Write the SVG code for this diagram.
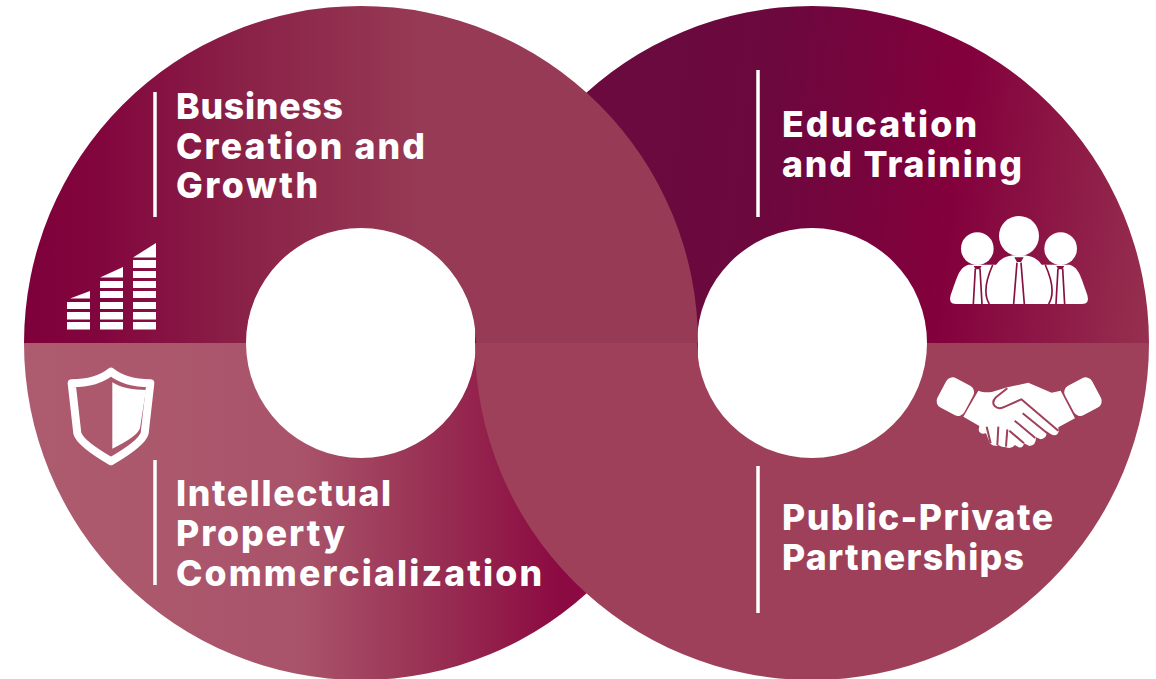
<svg xmlns="http://www.w3.org/2000/svg" width="1156" height="679" viewBox="0 0 1156 679">
<style>
text{font-family:Inter,"Liberation Sans",sans-serif;font-weight:800;font-size:35.6px;fill:#fff}
.rule{stroke:#fff;stroke-width:3.5;fill:none}
.w{fill:#fff}
.cutP{fill:none;stroke:#86103f;stroke-width:5}
.cutH{fill:none;stroke:#9f405a;stroke-width:6;stroke-linejoin:round}
</style>
<defs>
<linearGradient id="gTL" gradientUnits="userSpaceOnUse" x1="24" y1="0" x2="420" y2="0"><stop offset="0" stop-color="#7e003a"/><stop offset="0.2" stop-color="#82063e"/><stop offset="0.55" stop-color="#8a2147"/><stop offset="1" stop-color="#973a55"/></linearGradient>
<linearGradient id="gTR" gradientUnits="userSpaceOnUse" x1="620" y1="280" x2="1149" y2="343"><stop offset="0" stop-color="#6a0a3e"/><stop offset="0.25" stop-color="#6c083e"/><stop offset="0.6" stop-color="#83003c"/><stop offset="1" stop-color="#96304f"/></linearGradient>
<linearGradient id="gBL" gradientUnits="userSpaceOnUse" x1="24" y1="0" x2="560" y2="0"><stop offset="0" stop-color="#ad5b6e"/><stop offset="0.52" stop-color="#a9536a"/><stop offset="0.8" stop-color="#962a50"/><stop offset="1" stop-color="#8c0a42"/></linearGradient>
</defs>
<g id="ring-right-top"><path fill="url(#gTR)" d="M475 343A337 337 0 0 1 1149 343H927A115 115 0 0 0 697 343Z"/></g>
<g id="ring-left-top"><path fill="url(#gTL)" d="M24 343A337 337 0 0 1 698 343H476A115 115 0 0 0 246 343Z"/></g>
<g id="ring-left-bottom"><path fill="url(#gBL)" d="M24 343A337 337 0 0 0 698 343H476A115 115 0 0 1 246 343Z"/></g>
<g id="ring-right-bottom"><path fill="#9f405a" d="M475 343A337 337 0 0 0 1149 343H927A115 115 0 0 1 697 343Z"/></g>

<g id="node-business">
<line class="rule" x1="155" y1="92" x2="155" y2="217"/>
<text x="176" y="118.8" textLength="167">Business</text>
<text x="176" y="158.6" textLength="249">Creation and</text>
<text x="176" y="198.4" textLength="142">Growth</text>
<g class="w">
<path d="M70 298.5L90 291V298.5ZM100 277.5L123 267V277.5ZM133 257.5L156 243V257.5Z"/>
<path d="M67 302h23v7h-23zM67 312h23v7.5h-23zM67 322h23v7.5h-23zM100 281h23v7h-23zM100 291h23v7h-23zM100 302h23v7h-23zM100 312h23v7.5h-23zM100 322h23v7.5h-23zM133 260h23v8h-23zM133 271h23v7h-23zM133 281h23v7h-23zM133 291h23v7h-23zM133 302h23v7h-23zM133 312h23v7.5h-23zM133 322h23v7.5h-23z"/>
</g>
</g>

<g id="node-education">
<line class="rule" x1="758" y1="70" x2="758" y2="217"/>
<text x="782" y="137" textLength="195">Education</text>
<text x="782" y="177" textLength="240">and Training</text>
<g transform="translate(920 200) scale(.3333)">
<g class="w">
<circle cx="297" cy="108" r="60"/>
<circle cx="172" cy="146" r="49"/>
<circle cx="422" cy="146" r="49"/>
<path d="M145 194C125 200 116 218 108 240L92 285Q84 312 108 312H240V194Z"/>
<path d="M449 194C469 200 478 218 486 240L502 285Q510 312 486 312H354V194Z"/>
<path d="M283 166C240 168 225 195 215 225C205 250 200 280 205 295Q210 312 225 312H369Q384 312 389 295C394 280 389 250 379 225C369 195 354 168 311 166Z"/>
</g>
<path class="cutP" stroke-width="7" d="M218 195C200 235 188 280 208 312M376 195C394 235 406 280 386 312"/>
<path class="cutP" d="M291 188L281 312M303 188L313 312M166 206L160 312M180 206L186 312M414 206L408 312M428 206L434 312"/>
<path fill="#86103f" d="M283 172H311L303 186H291ZM161 198H185L179 208H167ZM409 198H433L427 208H415Z"/>
</g>
</g>

<g id="node-ip">
<line class="rule" x1="155" y1="460" x2="155" y2="585"/>
<text x="176" y="506" textLength="215">Intellectual</text>
<text x="176" y="545.8" textLength="169">Property</text>
<text x="176" y="585.6" textLength="366">Commercialization</text>
<g transform="translate(20 220) scale(.3333)">
<path fill="none" stroke="#fff" stroke-width="24" stroke-linejoin="round" d="M273 455C240 482 200 490 155 490L172 640Q180 670 273 724Q366 670 374 640L391 490C346 490 306 482 273 455Z"/>
<path class="w" d="M277 487C305 505 340 510 378 510L360 625Q352 650 277 686Z"/>
</g>
</g>

<g id="node-partnerships">
<line class="rule" x1="758" y1="466" x2="758" y2="613"/>
<text x="782" y="530" textLength="271">Public-Private</text>
<text x="782" y="570" textLength="242">Partnerships</text>
<g transform="translate(920 200) scale(.3333)">
<g class="w">
<rect x="60" y="540" width="92" height="100" rx="22" transform="rotate(28 106 590)"/>
<rect x="443" y="540" width="92" height="100" rx="22" transform="rotate(-28 489 590)"/>
<path d="M175 572C190 578 205 578 218 575L262 562L325 548L395 578L422 572L465 655L415 682L416 695Q410 712 392 702L380 694Q382 716 362 718L348 712Q348 738 328 738L312 730Q310 745 296 742L285 735Q275 748 258 742Q245 742 235 735Q222 742 210 730L198 700Q180 705 176 690L178 678L130 650Z"/>
</g>
<path class="cutH" d="M262 565L228 592Q214 606 224 618Q236 630 255 620L304 598L415 692"/>
<path class="cutH" d="M308 640L382 700M284 662L346 714M268 692L312 730M235 680L232 735M262 688L258 740M200 680L212 730"/>
</g>
</g>
</svg>
